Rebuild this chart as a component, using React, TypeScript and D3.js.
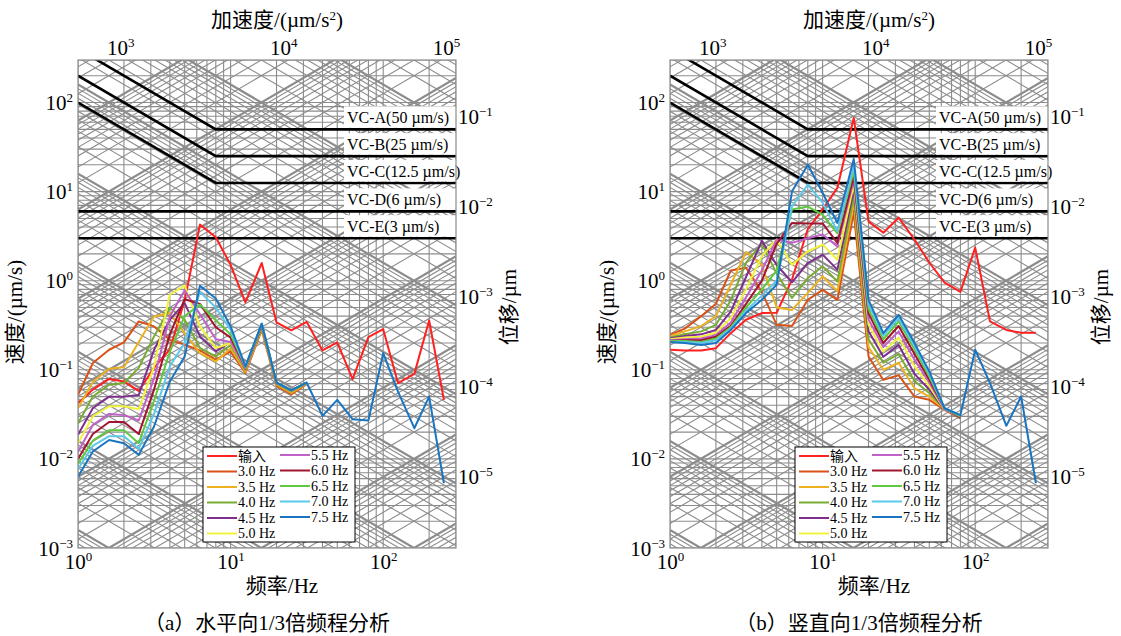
import React, { useRef, useEffect } from 'react';
import * as d3 from 'd3';

// 1/3 octave band centres, Hz
const FREQS = [1, 1.25, 1.6, 2, 2.5, 3.15, 4, 5, 6.3, 8, 10, 12.5, 16, 20, 25, 31.5, 40, 50, 63, 80, 100, 125, 160, 200, 250];

const SERIES_NAMES = ['输入', '3.0 Hz', '3.5 Hz', '4.0 Hz', '4.5 Hz', '5.0 Hz', '5.5 Hz', '6.0 Hz', '6.5 Hz', '7.0 Hz', '7.5 Hz'];
const SERIES_COLORS = ['#ff2020', '#d95319', '#edb120', '#77ac30', '#7e2f8e', '#f2f23a', '#c060c8', '#a2142f', '#5fc83e', '#5cc8ea', '#1a74c0'];

// (a) horizontal, velocity µm/s
const hInput = [0.042, 0.060, 0.079, 0.074, 0.058, 0.105, 0.17, 0.6, 4.26, 3.07, 1.51, 0.57, 1.58, 0.34, 0.277, 0.346, 0.165, 0.203, 0.0785, 0.233, 0.286, 0.071, 0.090, 0.358, 0.046];
const h30 = [0.052, 0.119, 0.168, 0.203, 0.349, 0.307, 0.217, 0.191, 0.165, 0.13, 0.16, 0.092, 0.28, 0.066, 0.053, 0.069];
const h35 = [0.037, 0.073, 0.103, 0.107, 0.205, 0.397, 0.433, 0.258, 0.154, 0.124, 0.175, 0.095, 0.29, 0.068, 0.055, 0.07];
const h40 = [0.025, 0.050, 0.068, 0.071, 0.105, 0.237, 0.493, 0.365, 0.175, 0.141, 0.19, 0.1, 0.3, 0.07, 0.057, 0.071];
const h45 = [0.0186, 0.037, 0.050, 0.050, 0.052, 0.168, 0.365, 0.561, 0.237, 0.161, 0.205, 0.102, 0.31, 0.071, 0.058, 0.072];
const h50 = [0.015, 0.030, 0.039, 0.039, 0.036, 0.109, 0.70, 0.88, 0.307, 0.175, 0.2, 0.104, 0.32, 0.072, 0.058, 0.072];
const h55 = [0.012, 0.024, 0.032, 0.031, 0.027, 0.08, 0.40, 0.78, 0.42, 0.22, 0.205, 0.105, 0.32, 0.072, 0.0586, 0.072];
const h60 = [0.010, 0.019, 0.026, 0.026, 0.019, 0.06, 0.25, 0.62, 0.55, 0.30, 0.23, 0.107, 0.325, 0.072, 0.0586, 0.072];
const h65 = [0.0088, 0.016, 0.021, 0.021, 0.015, 0.045, 0.16, 0.40, 0.54, 0.36, 0.25, 0.108, 0.325, 0.072, 0.0586, 0.072];
const h70 = [0.0077, 0.014, 0.018, 0.018, 0.013, 0.032, 0.11, 0.20, 0.75, 0.50, 0.28, 0.108, 0.33, 0.072, 0.0586, 0.072];
const h75 = [0.0063, 0.0121, 0.0163, 0.015, 0.0111, 0.0231, 0.074, 0.141, 0.88, 0.63, 0.307, 0.109, 0.329, 0.072, 0.0586, 0.072, 0.0304, 0.046, 0.0279, 0.0269, 0.154, 0.057, 0.0221, 0.05, 0.00533];

// (b) vertical, velocity µm/s
const vInput = [0.168, 0.165, 0.165, 0.175, 0.258, 0.365, 0.433, 0.437, 1.03, 3.8, 6.3, 11, 67, 4.6, 3.46, 5.1, 2.9, 1.6, 0.95, 0.75, 2.35, 0.35, 0.28, 0.26, 0.26];
const v30 = [0.247, 0.29, 0.40, 0.55, 1.30, 1.40, 0.75, 0.32, 0.31, 0.61, 0.79, 0.61, 5.8, 0.141, 0.077, 0.087, 0.05, 0.046, 0.0355, 0.0286];
const v35 = [0.24, 0.27, 0.31, 0.40, 0.90, 2.10, 1.50, 0.50, 0.47, 0.73, 1.12, 0.76, 7.5, 0.18, 0.10, 0.12, 0.062, 0.05, 0.036, 0.029];
const v40 = [0.23, 0.25, 0.27, 0.32, 0.60, 1.60, 2.60, 1.20, 0.64, 1.07, 1.45, 0.98, 8.85, 0.22, 0.12, 0.15, 0.075, 0.055, 0.036, 0.029];
const v45 = [0.225, 0.24, 0.25, 0.28, 0.45, 1.10, 2.80, 1.50, 0.96, 1.58, 1.96, 1.33, 10.5, 0.27, 0.14, 0.19, 0.09, 0.06, 0.036, 0.029];
const v50 = [0.22, 0.23, 0.235, 0.26, 0.38, 0.80, 1.90, 2.90, 1.51, 2.14, 2.54, 1.72, 12, 0.32, 0.16, 0.23, 0.11, 0.066, 0.036, 0.03];
const v55 = [0.215, 0.22, 0.225, 0.245, 0.34, 0.65, 1.30, 2.90, 2.66, 3.0, 3.3, 2.43, 13.5, 0.37, 0.18, 0.27, 0.13, 0.072, 0.036, 0.03];
const v60 = [0.21, 0.215, 0.215, 0.235, 0.31, 0.55, 1.00, 2.60, 4.45, 4.4, 4.4, 2.66, 14.9, 0.43, 0.20, 0.31, 0.15, 0.078, 0.037, 0.03];
const v65 = [0.21, 0.21, 0.205, 0.225, 0.30, 0.50, 0.80, 1.30, 6.3, 6.8, 5.5, 3.4, 17, 0.48, 0.22, 0.35, 0.17, 0.084, 0.037, 0.03];
const v70 = [0.205, 0.205, 0.20, 0.215, 0.29, 0.46, 0.68, 1.00, 6.8, 12, 7.5, 3.6, 19.3, 0.55, 0.24, 0.38, 0.185, 0.09, 0.037, 0.031];
const v75 = [0.205, 0.20, 0.19, 0.20, 0.28, 0.433, 0.61, 0.90, 10, 20, 9.7, 4.45, 23.3, 0.61, 0.258, 0.415, 0.20, 0.096, 0.037, 0.031, 0.168, 0.071, 0.0235, 0.0502, 0.00533];

const H_SERIES = [hInput, h30, h35, h40, h45, h50, h55, h60, h65, h70, h75];
const V_SERIES = [vInput, v30, v35, v40, v45, v50, v55, v60, v65, v70, v75];

// VC criteria
const VC_LEVELS = [50, 25, 12.5, 6, 3];
const VC_LABELS = ['VC-A(50 µm/s)', 'VC-B(25 µm/s)', 'VC-C(12.5 µm/s)', 'VC-D(6 µm/s)', 'VC-E(3 µm/s)'];
const VC_SLOPED = [true, true, true, false, false];
const VC_KNEE = 8;

const X_TICKS = [1, 10, 100];
const Y_TICKS = [0.001, 0.01, 0.1, 1, 10, 100];
const ACC_TICKS = [1e3, 1e4, 1e5];
const DISP_TICKS = [1e-5, 1e-4, 1e-3, 1e-2, 1e-1];

const CAPTIONS = ['（a）水平向1/3倍频程分析', '（b）竖直向1/3倍频程分析'];

const FONT = '"Liberation Serif", "Times New Roman", "Noto Sans CJK SC", serif';
const GRID = '#8c8c8c';

const W = 378;
const H = 488;

const App: React.FC = () => {
    const svgRef = useRef<SVGSVGElement>(null);

    useEffect(() => {
        if (!svgRef.current) return;
        const svg = d3.select(svgRef.current);
        svg.selectAll('*').remove();

        const panels = [
            { left: 78, series: H_SERIES, caption: CAPTIONS[0], id: 'a' },
            { left: 670, series: V_SERIES, caption: CAPTIONS[1], id: 'b' },
        ];

        const expText = (e: number) => (e < 0 ? '−' + (-e) : String(e));
        const powLabel = (t: d3.Selection<SVGTextElement, unknown, null, undefined>, v: number) => {
            const e = Math.round(Math.log10(v));
            t.append('tspan').text('10');
            t.append('tspan').attr('dy', -8).attr('font-size', 13).text(expText(e));
        };

        panels.forEach(p => {
            const g = svg.append('g').attr('transform', `translate(${p.left},60)`);

            const x = d3.scaleLog().domain([1, 300]).range([0, W]);
            const y = d3.scaleLog().domain([0.001, 300]).range([H, 0]);
            const xAcc = d3.scaleLog().domain([550, 115000]).range([0, W]);
            const yDisp = d3.scaleLog().domain([1.6e-6, 0.43]).range([H, 0]);

            g.append('clipPath').attr('id', `clip-${p.id}`)
                .append('rect').attr('width', W).attr('height', H);

            const grid = g.append('g').attr('clip-path', `url(#clip-${p.id})`);
            grid.append('rect').attr('width', W).attr('height', H).attr('fill', '#fff');

            // vertical / horizontal log grid
            const fLines: number[] = [];
            for (let k = 0; k <= 2; k++) for (let m = 1; m <= 9; m++) fLines.push(m * Math.pow(10, k));
            const vLines: number[] = [];
            for (let k = -3; k <= 2; k++) for (let m = 1; m <= 9; m++) vLines.push(m * Math.pow(10, k));

            grid.selectAll('.gx').data(fLines.filter(f => f <= 300)).enter().append('line')
                .attr('x1', d => x(d)).attr('x2', d => x(d)).attr('y1', 0).attr('y2', H)
                .attr('stroke', GRID).attr('stroke-width', 1.1);
            grid.selectAll('.gy').data(vLines.filter(v => v <= 300)).enter().append('line')
                .attr('x1', 0).attr('x2', W).attr('y1', d => y(d)).attr('y2', d => y(d))
                .attr('stroke', GRID).attr('stroke-width', 1.1);

            // acceleration diagonals: v = a / (2πf)
            const accLines: { v: number; major: boolean }[] = [];
            for (let k = -3; k <= 5; k++) for (let m = 1; m <= 9; m++) accLines.push({ v: m * Math.pow(10, k), major: m === 1 });
            grid.selectAll('.ga').data(accLines).enter().append('line')
                .attr('x1', x(1)).attr('x2', x(300))
                .attr('y1', d => y(d.v / (2 * Math.PI * 1)))
                .attr('y2', d => y(d.v / (2 * Math.PI * 300)))
                .attr('stroke', GRID).attr('stroke-width', d => (d.major ? 2.2 : 1.1));

            // displacement diagonals: v = 2πf d
            const dispLines: { v: number; major: boolean }[] = [];
            for (let k = -7; k <= 1; k++) for (let m = 1; m <= 9; m++) dispLines.push({ v: m * Math.pow(10, k), major: m === 1 });
            grid.selectAll('.gd').data(dispLines).enter().append('line')
                .attr('x1', x(1)).attr('x2', x(300))
                .attr('y1', d => y(d.v * 2 * Math.PI * 1))
                .attr('y2', d => y(d.v * 2 * Math.PI * 300))
                .attr('stroke', GRID).attr('stroke-width', d => (d.major ? 2.2 : 1.1));

            // VC curves
            VC_LEVELS.forEach((lvl, i) => {
                const pts: [number, number][] = VC_SLOPED[i]
                    ? [[1, lvl * VC_KNEE], [VC_KNEE, lvl], [300, lvl]]
                    : [[1, lvl], [300, lvl]];
                grid.append('path')
                    .attr('d', d3.line<[number, number]>().x(d => x(d[0])).y(d => y(d[1]))(pts) || '')
                    .attr('fill', 'none').attr('stroke', '#000').attr('stroke-width', 2.6);
            });

            // VC labels with white box
            VC_LEVELS.forEach((lvl, i) => {
                const ly = y(lvl);
                const box = g.append('rect').attr('fill', '#fff');
                const t = g.append('text').attr('x', 269).attr('y', ly - 6)
                    .attr('font-family', FONT).attr('font-size', 16).attr('fill', '#000')
                    .text(VC_LABELS[i]);
                const bw = (t.node() as SVGTextElement).getComputedTextLength();
                box.attr('x', 266).attr('y', ly - 23).attr('height', 21.5)
                    .attr('width', Math.max(W - 266, bw + 5));
            });

            // data
            const line = d3.line<number>()
                .x((_, i) => x(FREQS[i]))
                .y(d => y(d));
            const dataG = g.append('g').attr('clip-path', `url(#clip-${p.id})`);
            p.series.forEach((s, i) => {
                dataG.append('path').datum(s)
                    .attr('d', line)
                    .attr('fill', 'none')
                    .attr('stroke', SERIES_COLORS[i])
                    .attr('stroke-width', 2)
                    .attr('stroke-linejoin', 'round');
            });

            // frame
            g.append('rect').attr('width', W).attr('height', H)
                .attr('fill', 'none').attr('stroke', '#8c8c8c').attr('stroke-width', 1.2);

            // bottom axis
            const axB = g.append('g').attr('transform', `translate(0,${H})`)
                .call(d3.axisBottom(x).tickValues(X_TICKS).tickSize(0).tickFormat(() => ''));
            axB.select('.domain').remove();
            axB.selectAll<SVGGElement, number>('.tick').each(function (d) {
                const t = d3.select(this).append('text').attr('y', 21).attr('fill', '#000')
                    .attr('text-anchor', 'middle').attr('font-family', FONT).attr('font-size', 21);
                powLabel(t as any, d);
            });

            // left axis
            const axL = g.append('g')
                .call(d3.axisLeft(y).tickValues(Y_TICKS).tickSize(0).tickFormat(() => ''));
            axL.select('.domain').remove();
            axL.selectAll<SVGGElement, number>('.tick').each(function (d) {
                const t = d3.select(this).append('text').attr('x', -5).attr('y', 7).attr('fill', '#000')
                    .attr('text-anchor', 'end').attr('font-family', FONT).attr('font-size', 21);
                powLabel(t as any, d);
            });

            // top axis (acceleration)
            const axT = g.append('g')
                .call(d3.axisTop(xAcc).tickValues(ACC_TICKS).tickSize(0).tickFormat(() => ''));
            axT.select('.domain').remove();
            axT.selectAll<SVGGElement, number>('.tick').each(function (d) {
                const t = d3.select(this).append('text').attr('y', -5).attr('fill', '#000')
                    .attr('text-anchor', 'middle').attr('font-family', FONT).attr('font-size', 21);
                powLabel(t as any, d);
            });

            // right axis (displacement)
            const axR = g.append('g').attr('transform', `translate(${W},0)`)
                .call(d3.axisRight(yDisp).tickValues(DISP_TICKS).tickSize(0).tickFormat(() => ''));
            axR.select('.domain').remove();
            axR.selectAll<SVGGElement, number>('.tick').each(function (d) {
                const t = d3.select(this).append('text').attr('x', 2).attr('y', 7).attr('fill', '#000')
                    .attr('text-anchor', 'start').attr('font-family', FONT).attr('font-size', 21);
                powLabel(t as any, d);
            });

            // axis titles
            const title = g.append('text').attr('x', W / 2 + 10).attr('y', -33)
                .attr('text-anchor', 'middle').attr('font-family', FONT).attr('font-size', 21);
            title.append('tspan').text('加速度/(µm/s');
            title.append('tspan').attr('dy', -7).attr('font-size', 13).text('2');
            title.append('tspan').attr('dy', 7).text(')');

            g.append('text').attr('transform', `translate(-56,${H / 2 + 8}) rotate(-90)`)
                .attr('text-anchor', 'middle').attr('font-family', FONT).attr('font-size', 21)
                .text('速度/(µm/s)');
            g.append('text').attr('transform', `translate(${W + 60},${H / 2 + 3}) rotate(-90)`)
                .attr('text-anchor', 'middle').attr('font-family', FONT).attr('font-size', 21)
                .text('位移/µm');
            g.append('text').attr('x', W / 2 + 15).attr('y', H + 45)
                .attr('text-anchor', 'middle').attr('font-family', FONT).attr('font-size', 21)
                .text('频率/Hz');
            g.append('text').attr('x', W / 2).attr('y', H + 82)
                .attr('text-anchor', 'middle').attr('font-family', FONT).attr('font-size', 21)
                .text(p.caption);

            // legend
            const rowH = 15.5;
            const lg = g.append('g').attr('transform', 'translate(125,387)');
            lg.append('rect').attr('width', 152).attr('height', 95)
                .attr('fill', '#fff').attr('stroke', '#000').attr('stroke-width', 1);
            SERIES_NAMES.forEach((name, i) => {
                const col = i < 6 ? 0 : 1;
                const row = i < 6 ? i : i - 6;
                const lx = col === 0 ? 4 : 77;
                const ly = 9 + row * rowH - col;
                lg.append('line').attr('x1', lx).attr('x2', lx + 30).attr('y1', ly).attr('y2', ly)
                    .attr('stroke', SERIES_COLORS[i]).attr('stroke-width', 2);
                lg.append('text').attr('x', lx + 31).attr('y', ly + 4.5)
                    .attr('font-family', FONT).attr('font-size', 14).attr('fill', '#000')
                    .text(name);
            });
        });
    }, []);

    return (
        <svg ref={svgRef} width={1121} height={636}
            style={{ position: 'absolute', left: 0, top: 0, background: '#fff' }} />
    );
};

export default App;
